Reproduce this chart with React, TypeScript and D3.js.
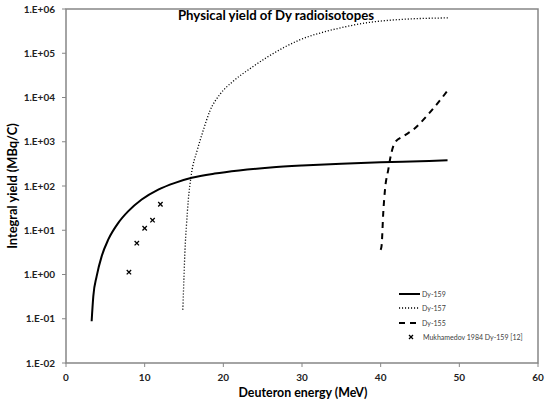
import React from "react";
import * as d3 from "d3";

const dy159E = [3.26, 3.47, 3.9, 4.54, 5.38, 6.65, 7.92, 9.62, 11.73, 13.86, 15.98, 18.9, 22, 26, 30, 35, 40, 45, 48.5];
const dy159Y = [0.088, 0.32, 0.92, 2.6, 6.2, 14.7, 27, 49.5, 83, 118, 153, 191, 225, 262, 290, 318, 342, 363, 380];

const dy157E = [14.85, 15.0, 15.13, 15.3, 15.55, 15.9, 16.7, 17.4, 18.3, 19.6, 21.2, 23.4, 25.5, 29.7, 33.9, 38.3, 42.5, 48.6];
const dy157Y = [0.16, 0.9, 3.7, 12, 49, 167, 660, 1700, 5000, 12000, 23000, 45000, 80000, 200000, 340000, 490000, 580000, 630000];

const dy155E = [40.0, 40.12, 40.33, 40.55, 40.97, 41.27, 41.8, 42.88, 44.15, 45.85, 47.1, 48.6];
const dy155Y = [3.6, 4.5, 25, 83, 235, 470, 950, 1330, 1880, 3800, 6900, 15000];

const mukE = [8, 9, 10, 11, 12];
const mukY = [1.13, 5.1, 11.1, 16.9, 38.7];

const xTicks = [0, 10, 20, 30, 40, 50, 60];
const yTicks = [1e-2, 1e-1, 1, 10, 100, 1e3, 1e4, 1e5, 1e6];
const yTickLabels = ["1.E-02", "1.E-01", "1.E+00", "1.E+01", "1.E+02", "1.E+03", "1.E+04", "1.E+05", "1.E+06"];

const legendNames = ["Dy-159", "Dy-157", "Dy-155", "Mukhamedov 1984 Dy-159 [12]"];

export default function App() {
  const W = 545, H = 403;
  const left = 66, right = 538, top = 9, bottom = 363;
  const x = d3.scaleLinear().domain([0, 60]).range([left, right]);
  const y = d3.scaleLog().domain([1e-2, 1e6]).range([bottom, top]);
  const line = d3
    .line<[number, number]>()
    .x((d) => x(d[0]))
    .y((d) => y(d[1]))
    .curve(d3.curveMonotoneX);
  const zip = (a: number[], b: number[]) => a.map((v, i) => [v, b[i]] as [number, number]);
  const font = "Lato, 'Open Sans', sans-serif";
  const axisColor = "#868686";

  const series = [
    { d: line(zip(dy159E, dy159Y)), dash: undefined, w: 2 },
    { d: line(zip(dy157E, dy157Y)), dash: "1.1,1.9", w: 1.3 },
    { d: line(zip(dy155E, dy155Y)), dash: "6,5", w: 2 },
  ];
  const legY = [294, 308, 323, 337];

  return (
    <svg width={W} height={H} style={{ position: "absolute", left: 0, top: 0 }} fontFamily={font}>
      <rect x={0} y={0} width={W} height={H} fill="white" />
      <rect x={left} y={top} width={right - left} height={bottom - top} fill="none" stroke={axisColor} strokeWidth={1.5} />
      {yTicks.map((t, i) => (
        <g key={"y" + i}>
          <line x1={left - 4} x2={left} y1={y(t)} y2={y(t)} stroke={axisColor} strokeWidth={1} />
          <text x={55} y={y(t) + 3.5} textAnchor="end" fontSize={10} fontWeight="bold" fill="#222">
            {yTickLabels[i]}
          </text>
        </g>
      ))}
      {xTicks.map((t) => (
        <g key={"x" + t}>
          <line x1={x(t)} x2={x(t)} y1={bottom} y2={bottom + 4} stroke={axisColor} strokeWidth={1} />
          <text x={x(t)} y={bottom + 18} textAnchor="middle" fontSize={10} fontWeight="bold" fill="#222">
            {t}
          </text>
        </g>
      ))}
      {series.map((s, i) => (
        <path key={"s" + i} d={s.d || ""} fill="none" stroke="#000" strokeWidth={s.w} strokeDasharray={s.dash} />
      ))}
      {mukE.map((e, i) => (
        <g key={"m" + i} stroke="#000" strokeWidth={1.3}>
          <line x1={x(e) - 2.2} x2={x(e) + 2.2} y1={y(mukY[i]) - 2.2} y2={y(mukY[i]) + 2.2} />
          <line x1={x(e) - 2.2} x2={x(e) + 2.2} y1={y(mukY[i]) + 2.2} y2={y(mukY[i]) - 2.2} />
        </g>
      ))}
      <text x={276} y={20} textAnchor="middle" fontSize={13.2} fontWeight="bold" fill="#000">
        Physical yield of Dy radioisotopes
      </text>
      <text x={303} y={397} textAnchor="middle" fontSize={12.4} fontWeight="bold" fill="#000">
        Deuteron energy (MeV)
      </text>
      <text transform={`translate(17,${(top + bottom) / 2}) rotate(-90)`} textAnchor="middle" fontSize={12.8} fontWeight="bold" fill="#000">
        Integral yield (MBq/C)
      </text>
      {legendNames.map((n, i) => (
        <g key={"l" + i}>
          {i < 3 ? (
            <line x1={399} x2={420} y1={legY[i]} y2={legY[i]} stroke="#000" strokeWidth={series[i].w}
              strokeDasharray={series[i].dash} />
          ) : (
            <g stroke="#000" strokeWidth={1.2}>
              <line x1={409} x2={413} y1={legY[i] - 2} y2={legY[i] + 2} />
              <line x1={409} x2={413} y1={legY[i] + 2} y2={legY[i] - 2} />
            </g>
          )}
          <text x={i < 3 ? 422 : 423} y={legY[i] + 2.5} fontSize={7} fill="#404040">
            {n}
          </text>
        </g>
      ))}
    </svg>
  );
}
